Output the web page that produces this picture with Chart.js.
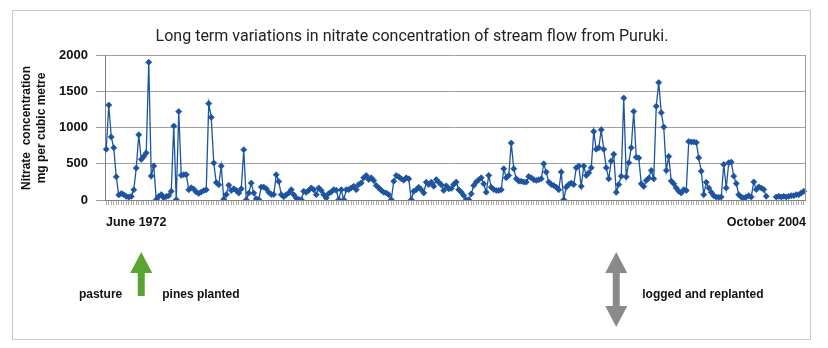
<!DOCTYPE html>
<html>
<head>
<meta charset="utf-8">
<script src="https://cdn.jsdelivr.net/npm/chart.js@4.4.1/dist/chart.umd.min.js"></script>
<style>
    html, body { margin: 0; padding: 0; background: #fff; }
    canvas { display: block; }
</style>
</head>
<body>
<canvas id="chNitrate" width="828" height="348"></canvas>
<script>
// Nitrate (mg per cubic metre), oldest first
const pastureAndPlanting = [700, 1310, 870, 720, 320, 70, 90, 75, 50, 40, 50, 140, 440, 900, 560, 600, 650, 1900, 330, 470,
    5, 50, 75, 30, 50, 60, 120, 1020, 5, 1220, 340, 350, 350, 140, 170, 150, 110, 90, 110, 130, 140, 1330, 1140, 510, 240,
    210, 468, 12, 76, 205, 131, 155, 131, 95, 155, 694, 2, 95, 233, 95, 16, 7, 178, 178, 155, 108, 76, 76, 348, 256];
const youngForest = [74, 44, 74, 97, 143, 74, 28, 5, 5, 120, 106, 134, 167, 143, 74, 167, 130, 74, 28, 88, 111, 143,
    134, 5, 143, 5, 143, 143, 167, 190, 143, 213, 236, 306, 338, 282, 306, 269, 199, 167, 134, 106, 97, 74, 5, 259, 338,
    319, 292, 273, 306, 292, 5, 120, 143, 176, 143, 97, 245, 213, 245, 190, 282];
const matureForest = [245, 210, 132, 195, 154, 160, 215, 247, 141, 108, 62, 2, 2, 85, 200, 247, 279, 306, 223, 108, 339,
    177, 145, 131, 131, 141, 431, 306, 339, 786, 431, 293, 260, 260, 247, 247, 325, 306, 279, 270, 279, 293, 500, 385, 247,
    214, 200, 177, 141, 385, 2, 177, 214, 233];
const loggingAndReplanting = [213, 444, 468, 190, 468, 338, 375, 444, 944, 699, 720, 968, 699, 444, 292, 537, 630, 106,
    213, 329, 1407, 319, 514, 722, 1222, 590, 581, 223, 187, 270, 302, 408, 293, 1293, 1620, 1205, 1007, 408, 601, 261, 223,
    167, 120, 97, 143, 130, 806, 801, 801, 792, 583, 398, 74, 245, 167, 106, 60, 42, 37, 42, 491, 167, 514, 523, 329, 227,
    74, 42, 28, 42, 60, 42, 250, 144, 181, 167, 144, 51, null, null, null, 42, 51, 42, 51, 42, 51, 60, 60, 74, 74, 97, 120];

const nitrate = [].concat(pastureAndPlanting, youngForest, matureForest, loggingAndReplanting);
const samples = nitrate.map((_, i) => i);

const yTicks = [0, 500, 1000, 1500, 2000];
const xEndLabels = ['June 1972', 'October 2004'];
const yTitle = ['Nitrate  concentration', 'mg per cubic metre'];
const chartTitle = 'Long term variations in nitrate concentration of stream flow from Puruki.';

// events marked under the axis (sample index)
const events = [
    { index: 14, left: 'pasture', right: 'pines planted', colour: '#5aa531', both: false },
    { index: 204, left: null, right: 'logged and replanted', colour: '#8a8a8a', both: true }
];

const BLUE = '#1d54a0';
const BOLD = 'bold 12px "Liberation Sans", Arial, sans-serif';

function arrowPath(ctx, x, top, bottom, both) {
    const hw = 11, sw = 3.5, hh = 21;
    ctx.beginPath();
    ctx.moveTo(x, top);
    ctx.lineTo(x + hw, top + hh);
    ctx.lineTo(x + sw, top + hh);
    if (both) {
        ctx.lineTo(x + sw, bottom - hh);
        ctx.lineTo(x + hw, bottom - hh);
        ctx.lineTo(x, bottom);
        ctx.lineTo(x - hw, bottom - hh);
        ctx.lineTo(x - sw, bottom - hh);
    } else {
        ctx.lineTo(x + sw, bottom);
        ctx.lineTo(x - sw, bottom);
    }
    ctx.lineTo(x - sw, top + hh);
    ctx.lineTo(x - hw, top + hh);
    ctx.closePath();
    ctx.fill();
}

const decorations = {
    id: 'decorations',
    afterDraw(chart) {
        const { ctx, chartArea: a, scales } = chart;
        ctx.save();

        // right frame line
        ctx.strokeStyle = '#9a9a9a';
        ctx.lineWidth = 1;
        ctx.beginPath();
        ctx.moveTo(Math.round(a.right) + 0.5, a.top);
        ctx.lineTo(Math.round(a.right) + 0.5, a.bottom);
        ctx.stroke();

        // outer box
        ctx.strokeStyle = '#c9c9c9';
        ctx.strokeRect(12.5, 10.5, 798, 329);

        // title
        ctx.fillStyle = '#222';
        ctx.font = '16px Roboto, "Liberation Sans", sans-serif';
        ctx.textAlign = 'center';
        ctx.textBaseline = 'middle';
        ctx.fillText(chartTitle, 412, 37);

        // y title, rotated
        ctx.fillStyle = '#111';
        ctx.font = BOLD;
        ctx.save();
        ctx.translate(27, 128);
        ctx.rotate(-Math.PI / 2);
        ctx.fillText(yTitle[0], 0, 0);
        ctx.fillText(yTitle[1], 0, 15);
        ctx.restore();

        // first / last sample labels
        ctx.font = 'bold 12.5px "Liberation Sans", Arial, sans-serif';
        ctx.textAlign = 'left';
        ctx.fillText(xEndLabels[0], a.left + 1, 223);
        ctx.textAlign = 'right';
        ctx.fillText(xEndLabels[1], a.right + 1, 223);

        // events
        ctx.font = BOLD;
        events.forEach(ev => {
            const x = scales.x.getPixelForValue(ev.index);
            ctx.fillStyle = ev.colour;
            arrowPath(ctx, x, 252, ev.both ? 327 : 296, ev.both);
            ctx.fillStyle = '#111';
            if (ev.left) {
                ctx.textAlign = 'right';
                ctx.fillText(ev.left, x - 19, 295);
            }
            ctx.textAlign = 'left';
            ctx.fillText(ev.right, x + (ev.both ? 26 : 21), 295);
        });
        ctx.restore();
    }
};

new Chart(document.getElementById('chNitrate'), {
    type: 'line',
    data: {
        labels: samples,
        datasets: [{
            label: 'Nitrate',
            data: nitrate,
            borderColor: BLUE,
            backgroundColor: BLUE,
            borderWidth: 1.3,
            pointStyle: 'rectRot',
            pointRadius: 3,
            pointBorderWidth: 0.8,
            tension: 0,
            spanGaps: false
        }]
    },
    options: {
        responsive: false,
        animation: false,
        devicePixelRatio: 1,
        layout: { padding: { top: 55, right: 23, left: 0, bottom: 0 } },
        plugins: {
            legend: { display: false },
            title: { display: false },
            tooltip: { enabled: false }
        },
        scales: {
            x: {
                type: 'category',
                offset: true,
                afterFit(s) { s.height = 148; },
                ticks: { display: false },
                grid: { drawOnChartArea: false, drawTicks: true, tickLength: 5, color: '#a8a8a8' },
                border: { color: '#808080' }
            },
            y: {
                min: 0,
                max: 2000,
                afterFit(s) { s.width = 105; },
                afterBuildTicks(s) { s.ticks = yTicks.map(v => ({ value: v })); },
                ticks: {
                    padding: 8,
                    color: '#111',
                    callback: v => String(v),
                    font: { family: '"Liberation Sans", Arial, sans-serif', size: 13, weight: 'bold' }
                },
                grid: { color: '#a0a0a0', tickLength: 9 },
                border: { color: '#808080' }
            }
        }
    },
    plugins: [decorations]
});
</script>
</body>
</html>
